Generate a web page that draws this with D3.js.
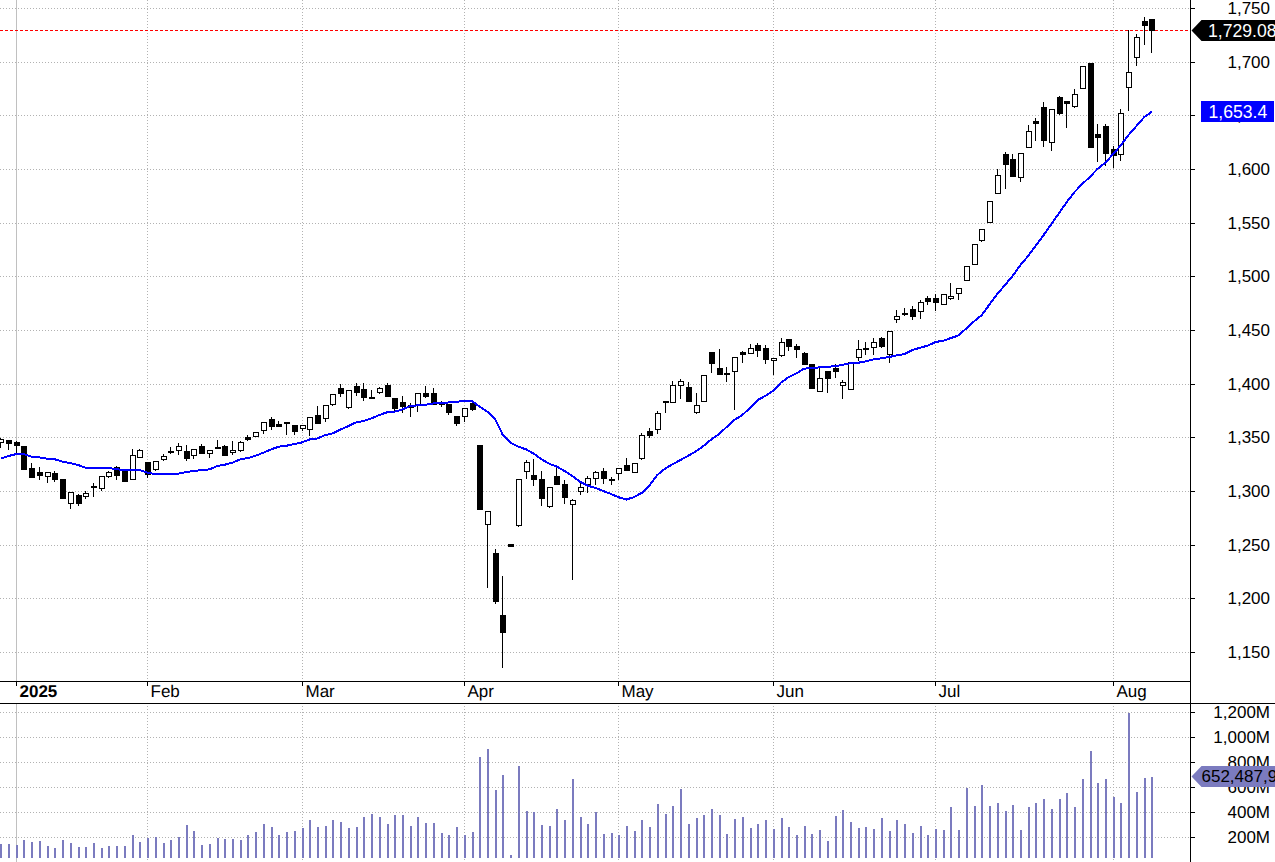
<!DOCTYPE html>
<html>
<head>
<meta charset="utf-8">
<script src="https://cdn.jsdelivr.net/npm/d3@7"></script>
<style>
html,body{margin:0;padding:0;background:#fff;overflow:hidden}
svg{display:block}
text{font-family:"Liberation Sans",Arial,sans-serif;font-size:17px}
</style>
</head>
<body>
<div id="chart"></div>
<script>
const opens = [
1345.3,1347.2,1345.6,1341.9,1321.1,1317.7,1314.2,1316.7,1311.1,1288.5,
1295.9,1295.6,1304.6,1303.1,1313.6,1322.0,1318.3,1310.8,1331.9,1326.7,
1320.8,1330.1,1337.2,1337.8,1336.9,1333.8,1341.6,1335.0,1340.6,1341.6,
1336.0,1338.5,1350.0,1351.5,1357.1,1366.7,1362.1,1363.9,1361.1,1358.3,
1358.0,1370.8,1368.3,1381.3,1395.9,1378.5,1397.8,1395.0,1387.2,1392.5,
1398.7,1386.6,1382.9,1380.1,1379.8,1391.3,1391.0,1382.3,1381.0,1369.9,
1369.5,1382.0,1342.8,1269.5,1242.2,1184.4,1250.6,1268.6,1318.3,1314.9,
1311.1,1286.3,1313.9,1306.5,1288.2,1300.3,1306.8,1312.4,1318.3,1310.8,
1316.4,1324.2,1318.0,1331.0,1355.6,1358.1,1383.5,1382.6,1398.4,1396.6,
1373.3,1383.5,1429.2,1414.3,1409.9,1411.5,1429.2,1428.9,1435.7,1432.9,
1421.7,1427.0,1441.3,1435.1,1428.3,1418.3,1392.9,1411.5,1414.3,1398.4,
1394.7,1425.2,1432.9,1433.8,1442.2,1427.3,1460.5,1465.5,1469.2,1468.0,
1479.8,1479.5,1474.5,1479.4,1484.7,1496.2,1511.8,1534.1,1550.9,1577.9,
1613.6,1609.0,1592.8,1620.2,1644.4,1657.4,1624.9,1666.8,1663.0,1658.4,
1675.8,1698.8,1632.3,1639.8,1618.3,1613.7,1676.1,1704.1,1737.6,1739.4];
const highs = [
1349.0,1347.2,1346.5,1341.9,1325.7,1322.0,1317.4,1318.3,1311.1,1298.7,
1297.2,1299.6,1307.1,1313.6,1318.6,1323.2,1318.3,1339.1,1339.1,1326.7,
1327.6,1334.4,1340.6,1344.4,1342.8,1338.8,1343.4,1337.8,1347.5,1342.5,
1346.5,1346.2,1351.8,1354.6,1364.6,1368.9,1365.2,1363.9,1361.1,1361.8,
1368.6,1379.2,1379.8,1390.0,1399.7,1393.8,1400.3,1400.3,1394.1,1396.6,
1400.3,1386.6,1388.5,1381.6,1391.0,1397.8,1395.9,1384.1,1381.0,1369.9,
1377.0,1384.1,1342.8,1281.0,1245.9,1220.8,1250.6,1310.8,1328.8,1329.8,
1318.3,1303.4,1322.6,1310.2,1292.2,1309.6,1313.9,1318.6,1321.4,1313.3,
1321.1,1330.7,1325.7,1353.7,1358.7,1374.2,1383.5,1402.5,1404.0,1401.5,
1391.0,1407.8,1429.2,1432.3,1415.5,1424.5,1430.4,1436.6,1437.6,1435.7,
1423.6,1442.2,1441.3,1436.6,1429.2,1418.3,1415.8,1411.5,1418.0,1403.7,
1420.5,1440.7,1438.8,1442.2,1443.5,1448.8,1468.3,1470.1,1472.0,1477.9,
1481.6,1483.5,1483.2,1493.4,1488.8,1509.3,1529.8,1543.7,1569.8,1600.0,
1615.5,1614.0,1614.6,1641.0,1647.5,1662.4,1655.6,1667.7,1663.0,1674.5,
1695.7,1698.8,1641.9,1641.9,1621.1,1655.6,1729.5,1725.5,1741.3,1739.4];
const lows = [
1339.7,1338.2,1334.4,1320.8,1313.3,1310.2,1307.7,1308.7,1293.7,1283.5,
1286.3,1292.5,1294.7,1300.3,1312.4,1310.2,1309.6,1310.8,1330.4,1311.7,
1318.6,1327.9,1334.4,1333.5,1328.2,1329.8,1335.7,1331.0,1339.4,1333.2,
1333.5,1336.3,1346.5,1350.3,1353.1,1356.8,1359.9,1352.1,1352.1,1355.9,
1351.2,1363.6,1364.6,1379.5,1387.9,1376.7,1388.8,1384.1,1385.7,1390.6,
1387.9,1374.8,1373.0,1369.2,1373.9,1386.3,1380.1,1378.5,1370.8,1360.8,
1364.3,1374.8,1283.2,1209.6,1195.0,1135.3,1249.0,1266.4,1311.1,1304.6,
1286.0,1284.1,1305.6,1287.8,1217.0,1296.2,1298.4,1305.6,1306.5,1305.6,
1310.2,1318.9,1318.0,1329.2,1349.7,1353.4,1373.0,1382.6,1386.0,1383.8,
1372.0,1383.5,1410.2,1408.7,1401.5,1375.8,1419.6,1427.9,1425.2,1418.6,
1408.4,1425.2,1430.7,1424.2,1418.6,1396.3,1392.9,1391.6,1405.3,1386.0,
1394.7,1420.8,1427.0,1426.7,1433.5,1419.6,1456.8,1462.7,1459.3,1460.5,
1473.2,1468.0,1473.2,1478.2,1477.9,1496.2,1510.5,1532.2,1550.0,1577.9,
1581.3,1593.8,1587.9,1620.2,1626.4,1620.8,1617.1,1650.3,1638.5,1656.5,
1674.9,1620.8,1606.8,1603.1,1600.6,1607.8,1654.4,1696.3,1715.8,1708.4];
const closes = [
1348.4,1345.0,1343.1,1320.8,1313.3,1315.2,1317.4,1311.4,1293.7,1298.7,
1289.1,1297.8,1303.4,1313.6,1317.4,1315.2,1309.6,1333.2,1338.2,1316.1,
1327.6,1332.3,1336.6,1341.6,1331.0,1338.8,1335.7,1337.8,1339.7,1333.8,
1337.8,1345.3,1348.7,1354.6,1364.6,1360.8,1360.8,1363.3,1356.2,1361.8,
1368.6,1363.6,1379.8,1390.0,1391.6,1393.8,1392.5,1387.9,1386.3,1395.9,
1388.5,1377.3,1379.2,1378.5,1391.0,1388.8,1381.0,1381.0,1373.9,1363.6,
1377.0,1376.7,1283.2,1281.0,1197.5,1168.9,1249.0,1310.8,1326.7,1311.1,
1293.8,1303.4,1306.5,1294.4,1291.3,1303.4,1311.8,1317.4,1312.1,1309.9,
1321.1,1319.5,1325.7,1351.8,1352.5,1372.4,1382.6,1398.4,1402.2,1384.2,
1379.8,1407.8,1419.6,1409.0,1409.3,1424.5,1427.9,1432.9,1431.7,1423.3,
1423.6,1438.5,1435.4,1432.6,1418.6,1396.3,1405.0,1405.6,1412.1,1401.2,
1420.5,1432.0,1432.3,1439.1,1435.4,1448.8,1462.7,1464.9,1463.3,1475.7,
1477.3,1476.3,1483.2,1481.3,1488.8,1509.3,1529.8,1543.7,1569.8,1594.1,
1604.9,1593.8,1614.6,1635.1,1643.2,1627.3,1655.6,1652.5,1661.2,1669.6,
1695.7,1620.8,1630.1,1615.2,1613.4,1652.5,1690.4,1722.7,1734.5,1729.08];
const movingAverage = [
1330.1,1332.6,1334.4,1334.4,1331.9,1331.3,1330.1,1329.5,1327.3,1326.0,
1324.2,1321.7,1321.7,1321.7,1321.4,1320.1,1319.8,1319.8,1319.5,1317.0,
1315.8,1315.8,1315.8,1316.1,1317.7,1318.6,1319.5,1320.1,1323.2,1324.5,
1326.4,1329.5,1330.7,1332.9,1335.7,1338.8,1341.3,1342.2,1343.7,1345.3,
1348.1,1349.0,1352.1,1353.7,1357.4,1360.5,1364.0,1365.2,1367.7,1370.8,
1373.3,1373.9,1376.0,1379.2,1379.8,1380.4,1381.6,1381.6,1382.6,1383.2,
1383.8,1383.8,1378.5,1373.9,1366.7,1352.1,1345.0,1341.3,1338.8,1334.7,
1329.5,1325.4,1322.6,1318.6,1313.9,1308.6,1304.9,1302.7,1300.0,1297.2,
1294.1,1292.1,1294.4,1298.4,1305.6,1315.0,1320.8,1325.1,1328.9,1332.9,
1337.0,1342.2,1348.2,1353.1,1359.9,1366.4,1370.8,1377.6,1384.8,1388.8,
1393.4,1401.0,1406.2,1409.6,1414.0,1414.6,1415.2,1415.8,1416.2,1417.7,
1419.0,1419.5,1420.8,1422.7,1423.6,1424.8,1426.4,1427.6,1431.3,1433.5,
1435.4,1438.8,1440.0,1442.5,1445.0,1451.6,1458.1,1464.0,1473.9,1483.5,
1492.0,1500.6,1510.5,1519.0,1528.7,1538.5,1548.7,1559.0,1569.3,1578.6,
1586.0,1592.8,1600.3,1605.9,1614.0,1622.1,1631.7,1640.0,1648.2,1653.4];
const volumesM = [
113,113,105,145,129,137,97,81,145,121,
89,89,121,81,97,97,97,185,129,161,
169,121,145,169,266,217,105,113,161,153,
153,145,185,209,274,250,185,209,217,242,
306,250,258,306,290,242,250,330,354,330,
274,346,346,258,330,282,282,201,185,250,
185,209,814,878,548,669,24,741,379,371,
266,258,395,306,636,330,274,371,193,201,
185,258,217,306,250,435,354,419,556,274,
322,346,395,346,193,314,330,242,274,306,
234,322,250,185,258,193,226,137,338,387,
290,242,250,234,322,217,306,274,201,258,
185,234,226,411,226,564,419,588,419,443,
379,427,226,411,443,475,395,475,524,411,
636,862,604,636,491,443,1168,532,644,652.5];

const monthIndex = [2,19,39,60,80,100,121,144];
const monthLabels = ["2025","Feb","Mar","Apr","May","Jun","Jul","Aug"];
const priceTicks = [1750,1700,1650,1600,1550,1500,1450,1400,1350,1300,1250,1200,1150];
const volumeTicks = [200,400,600,800,1000,1200];
const lastPriceLabel = "1,729.08";
const lastAverageLabel = "1,653.4";
const lastVolumeLabel = "652,487,900";

const W = 1275, H = 862;
const plotRight = 1190, timeTop = 681, timeBottom = 703;
const gridColor = "#b2b2b2", volColor = "#7b7bbf";

const x = d3.scaleLinear().domain([0, 149]).range([0.8, 1151.8]);
const y = d3.scaleLinear().domain([1750, 1150]).range([8, 652]);
const yVolAxis = d3.scaleLinear().domain([0, 1200]).range([862.4, 711.7]);
const yVolBar = d3.scaleLinear().domain([0, 1200]).range([858, 709]);

const svg = d3.select("#chart").append("svg").attr("width", W).attr("height", H)
  .attr("shape-rendering", "crispEdges");

const hLine = (g, scale, ticks) => g.selectAll(null).data(ticks).join("line")
  .attr("x1", 0).attr("x2", plotRight)
  .attr("y1", d => Math.round(scale(d)) + .5).attr("y2", d => Math.round(scale(d)) + .5)
  .attr("stroke", gridColor).attr("stroke-dasharray", "1,2");

const grid = svg.append("g");
hLine(grid, y, priceTicks);
hLine(grid, yVolAxis, volumeTicks);
[[0, timeTop], [timeBottom, H]].forEach(([a, b]) => {
  grid.selectAll(null).data(monthIndex).join("line")
    .attr("x1", d => Math.floor(x(d)) + .5).attr("x2", d => Math.floor(x(d)) + .5)
    .attr("y1", a).attr("y2", b)
    .attr("stroke", (d, i) => i === 0 ? "#c0c0c0" : gridColor)
    .attr("stroke-dasharray", (d, i) => i === 0 ? null : "1,2");
});

// last price line
svg.append("line").attr("x1", 0).attr("x2", plotRight)
  .attr("y1", Math.round(y(closes[149])) + .5).attr("y2", Math.round(y(closes[149])) + .5)
  .attr("stroke", "#ff0000").attr("stroke-dasharray", "3,2");

// volume bars
svg.append("g").selectAll("rect").data(volumesM).join("rect")
  .attr("x", (d, i) => Math.floor(x(i)))
  .attr("width", 2)
  .attr("y", d => Math.round(yVolBar(d)))
  .attr("height", d => yVolBar(0) - Math.round(yVolBar(d)))
  .attr("fill", volColor);

// candles
const idx = d3.range(opens.length);
const candles = svg.append("g");
candles.selectAll("rect.w").data(idx).join("rect").attr("class", "w")
  .attr("x", i => Math.floor(x(i)))
  .attr("width", 1)
  .attr("y", i => Math.round(y(highs[i])))
  .attr("height", i => Math.max(1, Math.round(y(lows[i])) - Math.round(y(highs[i]))))
  .attr("fill", "#000");
candles.selectAll("rect.b").data(idx).join("rect").attr("class", "b")
  .attr("x", i => Math.floor(x(i)) - 1.5)
  .attr("width", 5)
  .attr("y", i => Math.round(y(Math.max(opens[i], closes[i]))) + .5)
  .attr("height", i => Math.max(0, Math.round(y(Math.min(opens[i], closes[i]))) - Math.round(y(Math.max(opens[i], closes[i])))))
  .attr("fill", i => closes[i] < opens[i] ? "#000" : "#fff")
  .attr("stroke", "#000");

// moving average
svg.append("path").datum(movingAverage)
  .attr("d", d3.line().x((d, i) => x(i)).y(d => y(d)))
  .attr("fill", "none").attr("stroke", "#0000ff").attr("stroke-width", 2);

// frame
const frame = svg.append("g").attr("stroke", "#000");
frame.append("line").attr("x1", 0).attr("x2", plotRight + 1).attr("y1", timeTop + .5).attr("y2", timeTop + .5);
frame.append("line").attr("x1", 0).attr("x2", W).attr("y1", timeBottom + .5).attr("y2", timeBottom + .5);
frame.append("line").attr("x1", plotRight + .5).attr("x2", plotRight + .5).attr("y1", 0).attr("y2", H);

// month axis
const monthAxis = d3.axisBottom(x).tickValues(monthIndex)
  .tickFormat((d, i) => monthLabels[i]).tickSize(5).tickPadding(0);
const mg = svg.append("g").attr("transform", `translate(0,${timeTop})`).call(monthAxis);
mg.select(".domain").remove();
mg.selectAll(".tick").attr("transform", d => `translate(${Math.floor(x(d)) + .5},0)`);
mg.selectAll(".tick line").attr("stroke", "#000");
mg.selectAll(".tick text")
  .attr("text-anchor", "start").attr("x", 3).attr("y", 16).attr("dy", null)
  .style("font-family", '"Liberation Sans",Arial,sans-serif').style("font-size", "17px")
  .style("font-weight", (d, i) => i === 0 ? "bold" : "normal")
  .attr("fill", "#000").attr("text-rendering", "geometricPrecision");

// right axes
function rightAxis(scale, ticks, fmt) {
  const a = d3.axisRight(scale).tickValues(ticks).tickFormat(fmt).tickSize(4);
  const g = svg.append("g").attr("transform", `translate(${plotRight + 1},0)`).call(a);
  g.select(".domain").remove();
  g.selectAll(".tick").attr("transform", d => `translate(0,${Math.round(scale(d)) + .5})`);
  g.selectAll(".tick line").attr("stroke", "#000");
  g.selectAll(".tick text").attr("text-anchor", "end").attr("x", 79).attr("dy", "0.35em")
    .style("font-family", '"Liberation Sans",Arial,sans-serif').style("font-size", "17px").attr("fill", "#000");
}
rightAxis(y, priceTicks, d3.format(","));
rightAxis(yVolAxis, volumeTicks, d => d3.format(",")(d) + "M");

// value flags
const flagPoints = yc => {
  const tip = plotRight + 1.5, sh = plotRight + 11.5;
  return d3.line()([[tip, yc], [sh, yc - 10.5], [W, yc - 10.5], [W, yc + 10.5], [sh, yc + 10.5]]) + "Z";
};
const yClose = y(closes[149]);
svg.append("path").attr("d", flagPoints(yClose)).attr("fill", "#000").attr("shape-rendering", "auto");
svg.append("text").attr("x", 1208).attr("y", yClose).attr("dy", "0.35em").attr("fill", "#fff")
  .style("font-size", "17.6px").text(lastPriceLabel);

const yMa = y(movingAverage[149]);
svg.append("rect").attr("x", 1201).attr("y", yMa - 10.5).attr("width", 72.5).attr("height", 21).attr("fill", "#0000ff");
svg.append("text").attr("x", 1208.5).attr("y", yMa).attr("dy", "0.35em").attr("fill", "#fff")
  .style("font-size", "17.6px").text(lastAverageLabel);

const yVolFlag = yVolBar(volumesM[149]) - 0.5;
svg.append("path").attr("d", flagPoints(yVolFlag)).attr("fill", volColor).attr("shape-rendering", "auto");
svg.append("text").attr("x", 1201.5).attr("y", yVolFlag).attr("dy", "0.35em").attr("fill", "#000").text(lastVolumeLabel);
</script>
</body>
</html>
